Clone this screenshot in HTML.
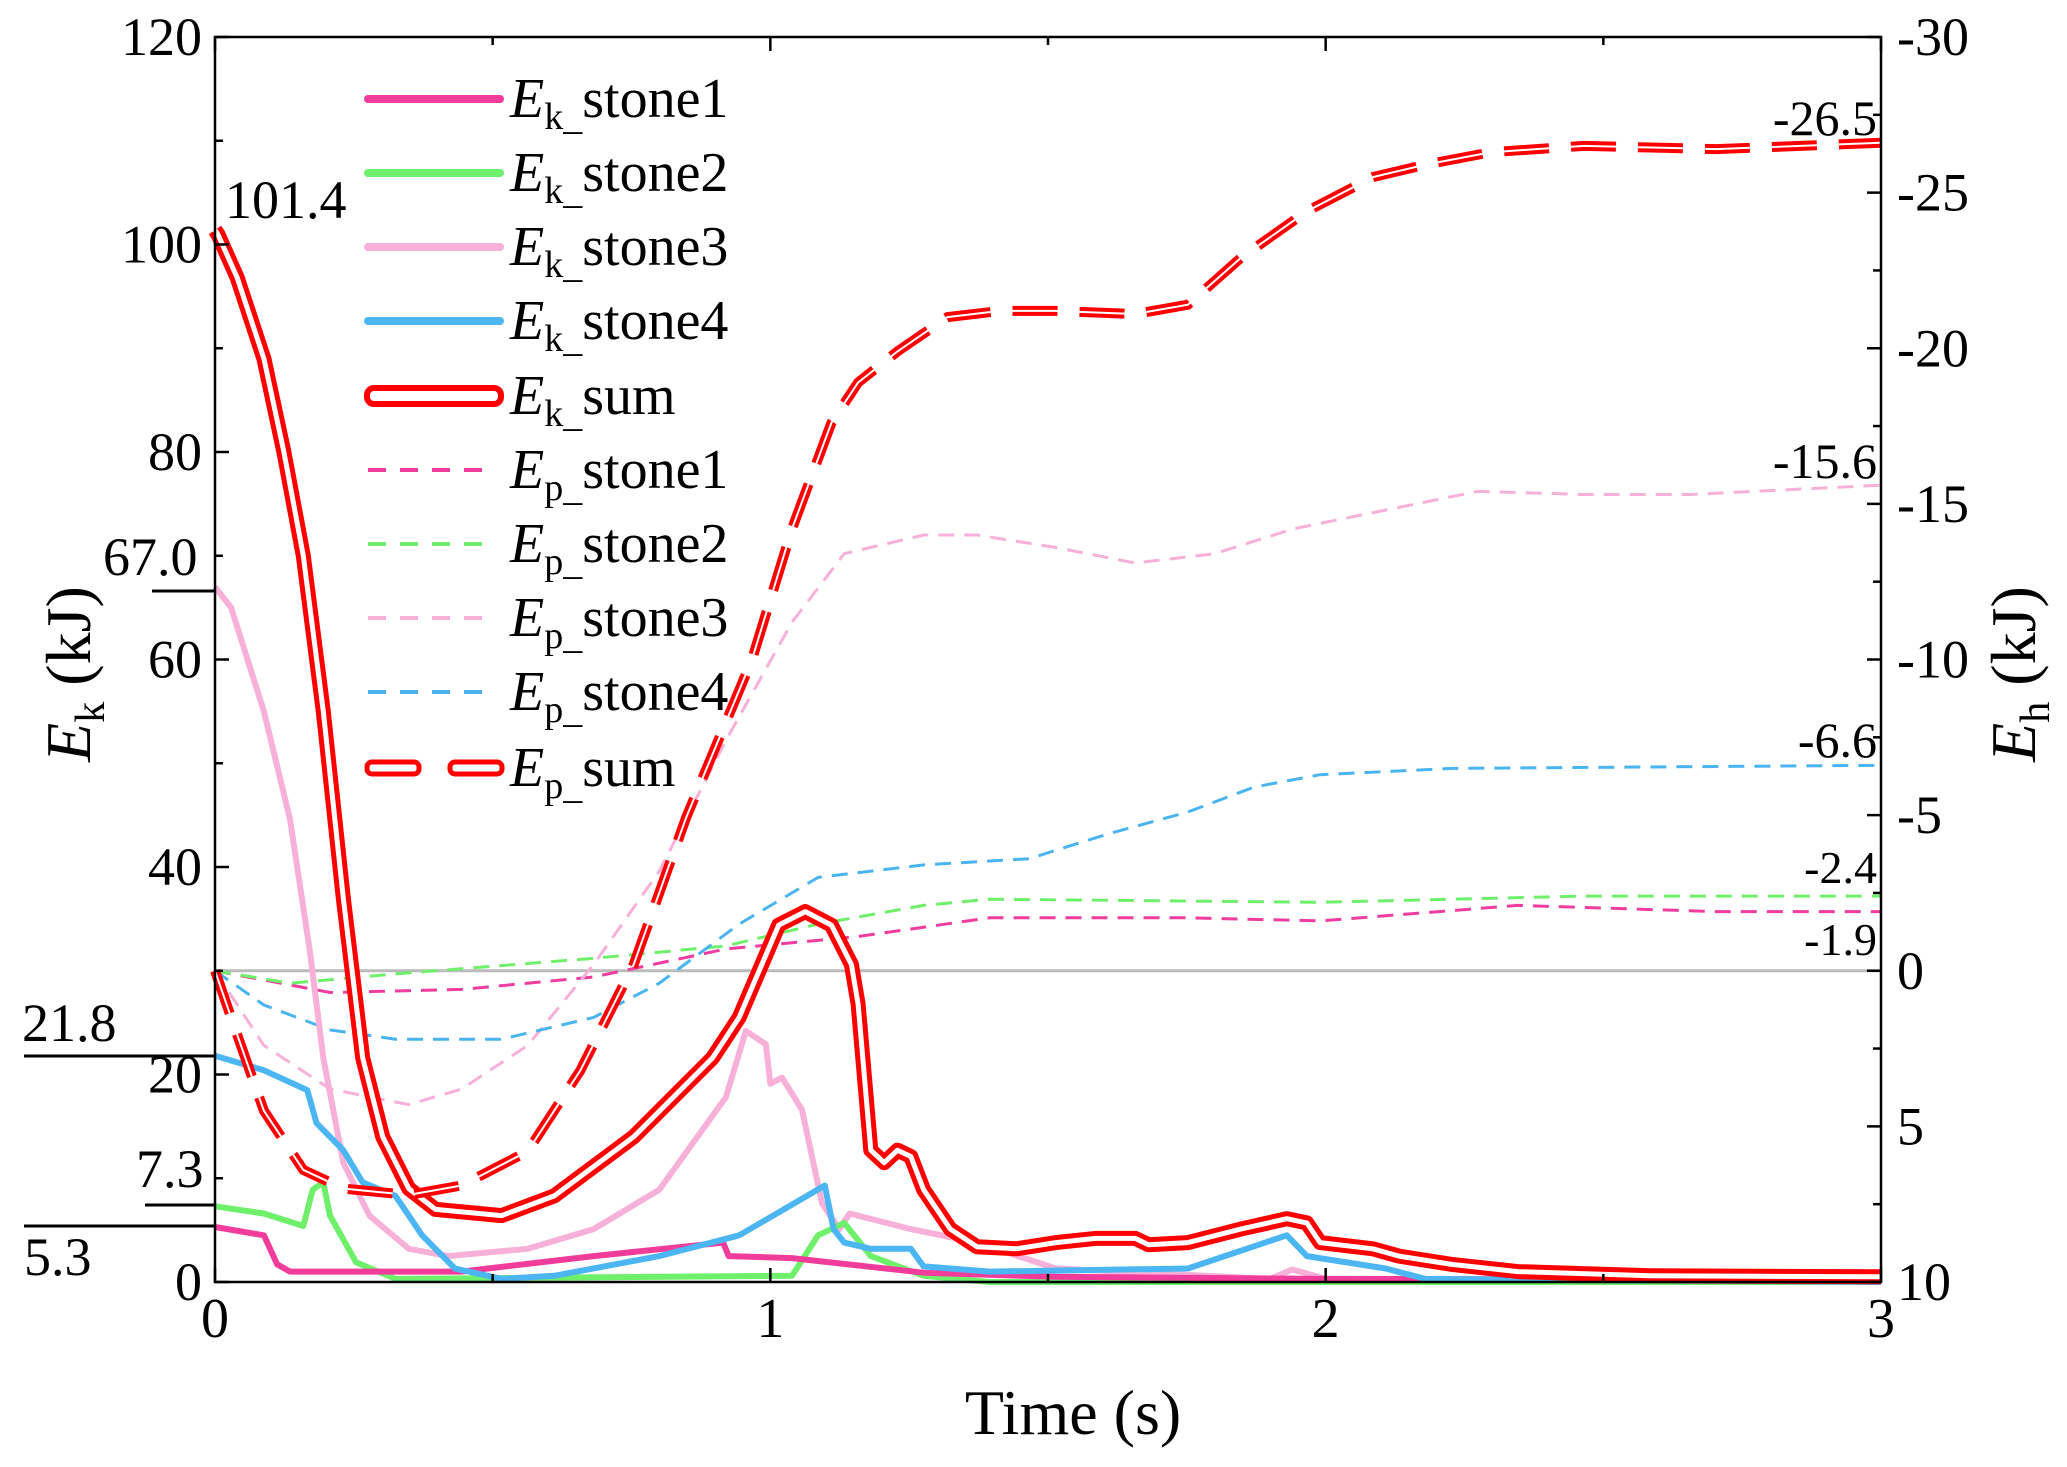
<!DOCTYPE html>
<html><head><meta charset="utf-8"><style>
html,body{margin:0;padding:0;background:#fff}
svg text{font-family:"Liberation Serif",serif;fill:#000}
</style></head><body>
<svg id="chart" width="2067" height="1462" viewBox="0 0 2067 1462" xmlns="http://www.w3.org/2000/svg">
<g id="marks"></g>
<g id="axes"></g>
<g id="legend"></g>
</svg>
<script>
// ---- data ----
const xTicks = [0, 1, 2, 3];
const leftTicks = [0, 20, 40, 60, 80, 100, 120];
const rightTicks = [10, 5, 0, -5, -10, -15, -20, -25, -30];
const rightTickLabels = ["10", "5", "0", "-5", "-10", "-15", "-20", "-25", "-30"];

const ekSumT = [0,0.005,0.04,0.088,0.124,0.159,0.195,0.231,0.266,0.302,0.349,0.397,0.516,0.611,0.754,0.896,0.944,1.015,1.063,1.11,1.146,1.158,1.181,1.205,1.229,1.253,1.276,1.324,1.372,1.443,1.514,1.585,1.657,1.681,1.752,1.847,1.93,1.966,1.99,2.085,2.132,2.227,2.346,2.584,3.0];
const ekSumV = [101.4,101,96.8,89,80,70,55,37,21.6,14,9,7,6.4,8.3,14,21.6,25.5,34.4,35.7,34.4,30.6,26.8,12.7,11.5,12.7,12.1,8.9,5.1,3.4,3.2,3.8,4.2,4.2,3.6,3.8,5.1,6.1,5.7,3.8,3.2,2.5,1.7,1.0,0.6,0.5];

const ek3T = [0,0.029,0.088,0.135,0.171,0.195,0.231,0.278,0.349,0.42,0.563,0.682,0.8,0.92,0.956,0.992,1.0,1.021,1.057,1.093,1.124,1.143,1.253,1.372,1.514,1.9,1.94,2.0,3.0];
const ek3V = [67,65,55,44.6,31.8,21.6,11.5,6.4,3.2,2.5,3.2,5.1,8.9,17.8,24.2,22.9,19.1,19.7,16.6,7.6,5.1,6.6,5.1,3.8,1.3,0.3,1.2,0.3,0];

const ek4T = [0,0.088,0.166,0.183,0.231,0.266,0.325,0.373,0.432,0.516,0.611,0.8,0.944,1.098,1.114,1.133,1.181,1.253,1.276,1.395,1.752,1.93,1.966,2.108,2.18,3.0];
const ek4V = [21.8,20.4,18.5,15.3,12.7,9.6,8.3,4.5,1.3,0.3,0.6,2.5,4.5,9.3,5.1,3.8,3.2,3.2,1.5,1.0,1.3,4.5,2.5,1.3,0.3,0];

const ek2T = [0,0.088,0.159,0.176,0.195,0.207,0.254,0.325,1.039,1.086,1.133,1.181,1.276,1.395,3.0];
const ek2V = [7.3,6.6,5.4,8.9,9.6,6.4,1.9,0.3,0.6,4.5,5.7,2.5,0.6,0,0];

const ek1T = [0,0.088,0.112,0.135,0.444,0.682,0.915,0.925,1.039,1.276,1.514,1.99,3.0];
const ek1V = [5.3,4.5,1.7,1.0,1.0,2.5,3.8,2.5,2.3,0.9,0.5,0.3,0.2];

const epSumT = [0,0.029,0.088,0.159,0.231,0.349,0.444,0.563,0.658,0.754,0.848,0.967,1.039,1.11,1.158,1.229,1.319,1.414,1.514,1.657,1.752,1.847,1.966,2.085,2.18,2.298,2.465,2.703,3.0];
const epSumV = [0,1.5,4.5,6.4,7.0,7.2,6.9,5.8,3.2,-0.2,-4.9,-10.0,-14.2,-17.6,-18.9,-19.9,-21.0,-21.2,-21.2,-21.1,-21.4,-22.9,-24.4,-25.5,-25.9,-26.3,-26.5,-26.4,-26.6];

const ep3T = [0,0.088,0.207,0.349,0.444,0.563,0.682,0.8,0.92,1.039,1.133,1.276,1.372,1.514,1.657,1.8,1.942,2.108,2.274,2.465,2.655,3.0];
const ep3V = [0,2.4,3.8,4.3,3.8,2.4,-0.2,-3.2,-7.4,-11.2,-13.4,-14.0,-14.0,-13.6,-13.1,-13.4,-14.2,-14.8,-15.4,-15.3,-15.3,-15.6];
const ep4T = [0,0.088,0.207,0.325,0.516,0.682,0.8,0.944,1.086,1.276,1.466,1.609,1.752,1.871,1.99,2.227,3.0];
const ep4V = [0,1.1,1.9,2.2,2.2,1.5,0.4,-1.5,-3.0,-3.4,-3.6,-4.4,-5.1,-5.9,-6.3,-6.5,-6.6];
const ep2T = [0,0.135,0.325,0.682,0.92,1.086,1.276,1.395,1.99,2.465,3.0];
const ep2V = [0,0.4,0.1,-0.4,-0.8,-1.5,-2.1,-2.3,-2.2,-2.4,-2.4];
const ep1T = [0,0.207,0.444,0.682,0.92,1.158,1.395,1.752,1.99,2.346,2.703,3.0];
const ep1V = [0,0.7,0.6,0.2,-0.7,-1.1,-1.7,-1.7,-1.6,-2.1,-1.9,-1.9];

const NS = "http://www.w3.org/2000/svg";
const L = 215, R = 1881, T = 37, B = 1282;
function xs(t){ return L + t / 3 * (R - L); }
function yl(v){ return B - v / 120 * (B - T); }
function yr(v){ return T + (v + 30) / 40 * (B - T); }
function mk(tag, attrs, parent){ const e = document.createElementNS(NS, tag); for (const k in attrs) e.setAttribute(k, attrs[k]); parent.appendChild(e); return e; }
function pts(ta, va, yf){ return ta.map((t,i)=>xs(t).toFixed(1)+","+yf(va[i]).toFixed(1)).join(" "); }

const marks = document.getElementById("marks");
const axes = document.getElementById("axes");
const legend = document.getElementById("legend");

let zl = mk("line", {x1:L, x2:R, y1:yr(0), y2:yr(0), stroke:"#bbbbbb", "stroke-width":3}, marks);



function dashLine(ta, va, color, name){
  const p = mk("polyline", {points:pts(ta,va,yr), fill:"none", stroke:color, "stroke-width":3, "stroke-dasharray":"16 10"}, marks);
  
  
}
function solidLine(ta, va, color, name){
  const p = mk("polyline", {points:pts(ta,va,yl), fill:"none", stroke:color, "stroke-width":6, "stroke-linejoin":"round"}, marks);
  
  
}
dashLine(ep1T, ep1V, "#ee3d9e", "ep-stone1-line");
dashLine(ep2T, ep2V, "#6ef06a", "ep-stone2-line");
dashLine(ep3T, ep3V, "#f7b0d8", "ep-stone3-line");
dashLine(ep4T, ep4V, "#49b4f0", "ep-stone4-line");
solidLine(ek3T, ek3V, "#f7b0d8", "ek-stone3-line");
solidLine(ek2T, ek2V, "#6ef06a", "ek-stone2-line");
solidLine(ek1T, ek1V, "#f23c9c", "ek-stone1-line");
solidLine(ek4T, ek4V, "#4cb6f2", "ek-stone4-line");

let s1 = mk("polyline", {points:pts(ekSumT,ekSumV,yl), fill:"none", stroke:"#ff0000", "stroke-width":15, "stroke-linejoin":"round"}, marks);


let s2 = mk("polyline", {points:pts(ekSumT,ekSumV,yl), fill:"none", stroke:"#ffffff", "stroke-width":5, "stroke-linejoin":"round"}, marks);


let d1 = mk("polyline", {points:pts(epSumT,epSumV,yr), fill:"none", stroke:"#ff0000", "stroke-width":10, "stroke-dasharray":"45 22"}, marks);


let d2 = mk("polyline", {points:pts(epSumT,epSumV,yr), fill:"none", stroke:"#ffffff", "stroke-width":2, "stroke-dasharray":"45 22"}, marks);



let fr = mk("rect", {x:L, y:T, width:R-L, height:B-T, fill:"none", stroke:"#000", "stroke-width":2.5}, axes);



xTicks.forEach(t=>{
  mk("line",{x1:xs(t),x2:xs(t),y1:B,y2:B-14,stroke:"#000","stroke-width":2.5},axes);
  mk("line",{x1:xs(t),x2:xs(t),y1:T,y2:T+14,stroke:"#000","stroke-width":2.5},axes);
  if (t<3){ mk("line",{x1:xs(t+0.5),x2:xs(t+0.5),y1:B,y2:B-8,stroke:"#000","stroke-width":2.5},axes);
            mk("line",{x1:xs(t+0.5),x2:xs(t+0.5),y1:T,y2:T+8,stroke:"#000","stroke-width":2.5},axes); }
  const tx = mk("text",{x:xs(t),y:1337,"font-size":56,"text-anchor":"middle"},axes);
  tx.textContent = t;
  
  
});
leftTicks.forEach(v=>{
  mk("line",{x1:L,x2:L+14,y1:yl(v),y2:yl(v),stroke:"#000","stroke-width":2.5},axes);
  if (v<120) mk("line",{x1:L,x2:L+8,y1:yl(v+10),y2:yl(v+10),stroke:"#000","stroke-width":2.5},axes);
  const tx = mk("text",{x:202,y:yl(v)+18,"font-size":54,"text-anchor":"end"},axes);
  tx.textContent = v;
  
  
});
rightTicks.forEach((v,i)=>{
  mk("line",{x1:R,x2:R-14,y1:yr(v),y2:yr(v),stroke:"#000","stroke-width":2.5},axes);
  if (v>-30) mk("line",{x1:R,x2:R-8,y1:yr(v-2.5),y2:yr(v-2.5),stroke:"#000","stroke-width":2.5},axes);
  const tx = mk("text",{x:1897,y:yr(v)+18,"font-size":54},axes);
  tx.textContent = rightTickLabels[i];
  
  
});
</script>
<script>
const ax = document.getElementById("axes");
ax.insertAdjacentHTML("beforeend", `
<text x="1073" y="1434" font-size="64" text-anchor="middle">Time (s)</text>
<text transform="translate(90,674) rotate(-90)" font-size="64" text-anchor="middle"><tspan font-style="italic">E</tspan><tspan font-size="42" dy="14">k</tspan><tspan dy="-14"> (kJ)</tspan></text>
<text transform="translate(2035,674) rotate(-90)" font-size="64" text-anchor="middle"><tspan font-style="italic">E</tspan><tspan font-size="42" dy="14">h</tspan><tspan dy="-14"> (kJ)</tspan></text>
<text x="225" y="218" font-size="54">101.4</text>
<text x="103" y="575" font-size="54">67.0</text>
<line x1="152" x2="215" y1="591" y2="591" stroke="#000" stroke-width="3"/>
<text x="22" y="1041" font-size="54">21.8</text>
<line x1="24" x2="215" y1="1056" y2="1056" stroke="#000" stroke-width="3"/>
<text x="136" y="1187" font-size="54">7.3</text>
<line x1="145" x2="215" y1="1205" y2="1205" stroke="#000" stroke-width="3"/>
<text x="24" y="1275" font-size="54">5.3</text>
<line x1="24" x2="215" y1="1226" y2="1226" stroke="#000" stroke-width="3"/>
<text x="1877" y="135" font-size="50" text-anchor="end">-26.5</text>
<text x="1877" y="478" font-size="50" text-anchor="end">-15.6</text>
<text x="1877" y="757" font-size="50" text-anchor="end">-6.6</text>
<text x="1877" y="883" font-size="46" text-anchor="end">-2.4</text>
<text x="1877" y="955" font-size="46" text-anchor="end">-1.9</text>
`);
const lg = document.getElementById("legend");
const rows = [
 ["k","stone1","#f23c9c","solid"],["k","stone2","#6ef06a","solid"],["k","stone3","#f7b0d8","solid"],["k","stone4","#4cb6f2","solid"],["k","sum","#ff0000","double"],
 ["p","stone1","#ee3d9e","dash"],["p","stone2","#6ef06a","dash"],["p","stone3","#f7b0d8","dash"],["p","stone4","#49b4f0","dash"],["p","sum","#ff0000","ddash"]];
const ys = [99,173,247,321,396,470,544,618,692,768];
let h = "";
rows.forEach((r,i)=>{
  const y = ys[i];
  h += `<g>`;
  if (r[3]=="solid") h += `<line x1="368" x2="500" y1="${y}" y2="${y}" stroke="${r[2]}" stroke-width="8" stroke-linecap="round"/>`;
  else if (r[3]=="double") h += `<rect x="367" y="${y-8}" width="134" height="16" rx="7" fill="#fff" stroke="${r[2]}" stroke-width="6"/>`;
  else if (r[3]=="dash") h += `<line x1="368" x2="495" y1="${y}" y2="${y}" stroke="${r[2]}" stroke-width="4" stroke-dasharray="18 14"/>`;
  else h += `<rect x="367" y="${y-6}" width="52" height="12" rx="5" fill="#fff" stroke="${r[2]}" stroke-width="5"/><rect x="450" y="${y-6}" width="52" height="12" rx="5" fill="#fff" stroke="${r[2]}" stroke-width="5"/>`;
  h += `<text x="510" y="${y+18}" font-size="56"><tspan font-style="italic">E</tspan><tspan font-size="38" dy="12">${r[0]}</tspan><tspan font-size="38">_</tspan><tspan dy="-12">${r[1]}</tspan></text></g>`;
});
lg.insertAdjacentHTML("beforeend", h);
</script>
</body></html>
